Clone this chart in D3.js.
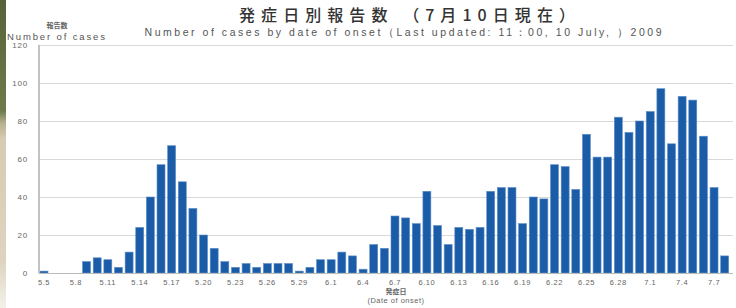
<!DOCTYPE html>
<html><head><meta charset="utf-8">
<script src="https://cdn.jsdelivr.net/npm/d3@7"></script>
<style>html,body{margin:0;padding:0;background:#fff;} svg{display:block}</style>
</head><body><svg id="c" width="736" height="308"></svg>
<script>
const dates = ["5.5","5.6","5.7","5.8","5.9","5.10","5.11","5.12","5.13","5.14","5.15","5.16","5.17","5.18","5.19","5.20",
  "5.21","5.22","5.23","5.24","5.25","5.26","5.27","5.28","5.29","5.30","5.31",
  "6.1","6.2","6.3","6.4","6.5","6.6","6.7","6.8","6.9","6.10","6.11","6.12","6.13","6.14","6.15","6.16","6.17","6.18",
  "6.19","6.20","6.21","6.22","6.23","6.24","6.25","6.26","6.27","6.28","6.29","6.30",
  "7.1","7.2","7.3","7.4","7.5","7.6","7.7","7.8"];
const cases = [1,0,0,0,6,8,7,3,11,24,40,57,67,48,34,20,
  13,6,3,5,3,5,5,5,1,3,7,
  7,11,9,2,15,13,30,29,26,43,25,15,24,23,24,43,45,45,
  26,40,39,57,56,44,73,61,61,82,74,80,
  85,97,68,93,91,72,45,9];
const yTicks = [0,20,40,60,80,100,120];
const xTickLabels = ["5.5","5.8","5.11","5.14","5.17","5.20","5.23","5.26","5.29","6.1","6.4","6.7","6.10","6.13","6.16","6.19","6.22","6.25","6.28","7.1","7.4","7.7"];
const titleJa = "発症日別報告数 （7月10日現在）";
const titleEn = "Number of cases by date of onset（Last updated: 11：00, 10 July, ）2009";
const yTitleJa = "報告数";
const yTitleEn = "Number of cases";
const xTitleJa = "発症日";
const xTitleEn = "(Date of onset)";

const svg = d3.select("#c");
const font = "'Noto Sans CJK JP','DejaVu Sans',sans-serif";
const sans = "'Liberation Sans','DejaVu Sans',sans-serif";

// decorative strip at left (photo edge)
const defs = svg.append("defs");
const g1 = defs.append("linearGradient").attr("id","strip").attr("x1",0).attr("y1",0).attr("x2",0).attr("y2",1);
[[0,"#56633a"],[0.36,"#6d7b4b"],[0.40,"#b7b08f"],[0.45,"#d6ccb2"],[0.85,"#ddd4c0"],[1,"#f4f1ea"]].forEach(s=>g1.append("stop").attr("offset",s[0]).attr("stop-color",s[1]));
svg.append("rect").attr("x",0).attr("y",0).attr("width",6).attr("height",308).attr("fill","url(#strip)");

const x = d3.scaleBand().domain(dates).range([38.7,730]).paddingInner(0.25).paddingOuter(0.125);
const y = d3.scaleLinear().domain([0,120]).range([273,45]);

// gridlines
svg.append("g").attr("transform","translate(39,0)")
  .call(d3.axisLeft(y).tickValues(yTicks.filter(d=>d>0)).tickSize(-(733-39)).tickFormat(""))
  .call(g=>g.select(".domain").remove())
  .call(g=>g.selectAll("line").attr("stroke","#d9d9d9").attr("stroke-width",1.2));

// y axis labels
svg.append("g").attr("transform","translate(28,0)")
  .call(d3.axisLeft(y).tickValues(yTicks).tickSize(0).tickPadding(0))
  .call(g=>g.select(".domain").remove())
  .call(g=>g.selectAll("text").attr("fill","#666").attr("font-family",sans).attr("font-size",8).attr("letter-spacing",0.8));

// bars
svg.append("g").selectAll("rect").data(dates).join("rect")
  .attr("x",d=>x(d)).attr("width",x.bandwidth())
  .attr("y",(d,i)=>y(cases[i])).attr("height",(d,i)=>y(0)-y(cases[i]))
  .attr("fill","#1b5ca8").attr("stroke","#5f8fc7").attr("stroke-width",0.6);

// y axis line
svg.append("line").attr("x1",39).attr("x2",39).attr("y1",45).attr("y2",273.5).attr("stroke","#aaa").attr("stroke-width",1.4);
// baseline
svg.append("line").attr("x1",39).attr("x2",733).attr("y1",273.5).attr("y2",273.5).attr("stroke","#bbb").attr("stroke-width",1);

// x axis labels
svg.append("g").attr("transform","translate(0,273)")
  .call(d3.axisBottom(x).tickValues(xTickLabels).tickSize(0).tickPadding(7))
  .call(g=>g.select(".domain").remove())
  .call(g=>g.selectAll("text").attr("fill","#666").attr("font-family",sans).attr("font-size",7.5).attr("letter-spacing",0.6));

// titles
svg.append("text").attr("x",407).attr("y",21).attr("text-anchor","middle")
  .attr("font-family",font).attr("font-size",16).attr("font-weight",500).attr("fill","#333")
  .attr("textLength",336).attr("lengthAdjust","spacing").text(titleJa);
svg.append("text").attr("x",403).attr("y",36).attr("text-anchor","middle")
  .attr("font-family",sans).attr("font-size",10.5).attr("fill","#555")
  .attr("textLength",517).attr("lengthAdjust","spacing").text(titleEn);

svg.append("text").attr("x",57).attr("y",28).attr("text-anchor","middle")
  .attr("font-family",font).attr("font-size",7).attr("font-weight",700).attr("fill","#666").text(yTitleJa);
svg.append("text").attr("x",56).attr("y",40).attr("text-anchor","middle")
  .attr("font-family",sans).attr("font-size",9.5).attr("fill","#555")
  .attr("textLength",98).attr("lengthAdjust","spacing").text(yTitleEn);

svg.append("text").attr("x",396).attr("y",294).attr("text-anchor","middle")
  .attr("font-family",font).attr("font-size",7).attr("font-weight",700).attr("fill","#666").text(xTitleJa);
svg.append("text").attr("x",396).attr("y",303).attr("text-anchor","middle")
  .attr("font-family",sans).attr("font-size",7.5).attr("fill","#666").attr("letter-spacing",0.5).text(xTitleEn);
</script></body></html>
